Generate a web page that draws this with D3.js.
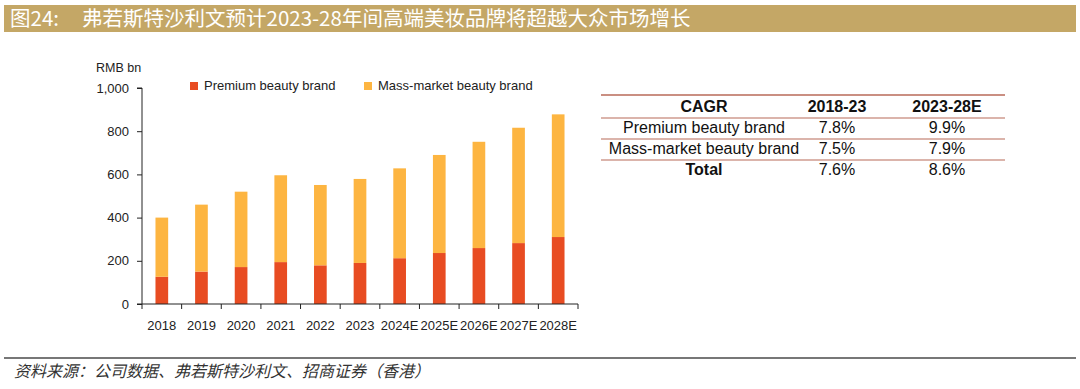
<!DOCTYPE html>
<html>
<head>
<meta charset="utf-8">
<script src="https://cdn.jsdelivr.net/npm/d3@7"></script>
<style>
  body { margin: 0; background: #fff; }
  svg { display: block; }
  .axis text { font-family: "Liberation Sans", Arial, sans-serif; font-size: 13px; fill: #222; }
  .axis path, .axis line { stroke: #222; }
</style>
</head>
<body>
<div id="chart"></div>
<script>
var years = ["2018", "2019", "2020", "2021", "2022", "2023", "2024E", "2025E", "2026E", "2027E", "2028E"];
var premium = [126, 150, 171, 194, 179, 190, 212, 236, 259, 282, 310];
var mass = [274, 310, 349, 402, 372, 389, 416, 454, 492, 534, 568];
var seriesNames = ["Premium beauty brand", "Mass-market beauty brand"];
var yTicks = [0, 200, 400, 600, 800, 1000];

var tableHead = ["CAGR", "2018-23", "2023-28E"];
var tableRows = ["Premium beauty brand", "Mass-market beauty brand", "Total"];
var cagr1823 = ["7.8%", "7.5%", "7.6%"];
var cagr2328 = ["9.9%", "7.9%", "8.6%"];

var titleLabel = "图24:";
var titleText = "弗若斯特沙利文预计2023-28年间高端美妆品牌将超越大众市场增长";
var sourceText = "资料来源：公司数据、弗若斯特沙利文、招商证券（香港）";

var W = 1080, H = 389;
var colors = ["#e84c22", "#fdb541"];

var svg = d3.select("#chart").append("svg")
    .attr("width", W)
    .attr("height", H);

// HEADER BAR
svg.append("rect")
    .attr("x", 4).attr("y", 5)
    .attr("width", 1072).attr("height", 27)
    .attr("fill", "#c4a766");

var title = svg.append("g")
    .attr("fill", "#fff")
    .style("font-family", "'Noto Sans CJK SC', sans-serif")
    .style("font-size", "20.5px");

title.append("text").attr("x", 10).attr("y", 26).text(titleLabel);
title.append("text").attr("x", 82).attr("y", 26).text(titleText);

// CHART
var margin = {left: 142, top: 88, right: 578, bottom: 304};

var x = d3.scaleBand()
    .domain(years)
    .range([margin.left, margin.right])
    .paddingInner(0.68)
    .paddingOuter(0.34);

var y = d3.scaleLinear()
    .domain([0, 1000])
    .range([margin.bottom, margin.top]);

var data = years.map(function(d, i) { return {year: d, premium: premium[i], mass: mass[i]}; });
var stack = d3.stack().keys(["premium", "mass"]);
var layers = stack(data);

svg.selectAll(".layer")
    .data(layers)
    .enter().append("g")
    .attr("class", "layer")
    .attr("fill", function(d, i) { return colors[i]; })
    .selectAll("rect")
    .data(function(d) { return d; })
    .enter().append("rect")
    .attr("x", function(d) { return x(d.data.year); })
    .attr("y", function(d) { return y(d[1]); })
    .attr("height", function(d) { return y(d[0]) - y(d[1]); })
    .attr("width", x.bandwidth());

var yAxis = d3.axisLeft(y)
    .tickValues(yTicks)
    .tickSize(5)
    .tickPadding(8)
    .tickFormat(d3.format(","));

svg.append("g")
    .attr("class", "axis")
    .attr("transform", "translate(" + margin.left + ",0)")
    .call(yAxis)
    .call(function(g) { g.select(".domain").attr("d", "M-5," + margin.top + "H0V" + margin.bottom); });

// x axis with ticks at category boundaries
var xg = svg.append("g")
    .attr("class", "axis")
    .attr("transform", "translate(0," + margin.bottom + ")");

xg.append("line")
    .attr("x1", margin.left - 5).attr("x2", margin.right)
    .attr("stroke", "#222");

xg.selectAll(".tk")
    .data(d3.range(years.length + 1))
    .enter().append("line")
    .attr("x1", function(i) { return margin.left + i * (margin.right - margin.left) / years.length; })
    .attr("x2", function(i) { return margin.left + i * (margin.right - margin.left) / years.length; })
    .attr("y1", 0).attr("y2", 5)
    .attr("stroke", "#222");

xg.selectAll(".lbl")
    .data(years)
    .enter().append("text")
    .attr("x", function(d) { return x(d) + x.bandwidth() / 2; })
    .attr("y", 26)
    .attr("text-anchor", "middle")
    .text(function(d) { return d; });

svg.append("text")
    .attr("x", 96).attr("y", 72)
    .style("font-family", "'Liberation Sans', Arial, sans-serif")
    .style("font-size", "12.5px")
    .attr("fill", "#222")
    .text("RMB bn");

// LEGEND
var legendX = [190, 364];
var legend = svg.selectAll(".legend")
    .data(seriesNames)
    .enter().append("g")
    .attr("transform", function(d, i) { return "translate(" + legendX[i] + ",82)"; });

legend.append("rect")
    .attr("width", 8).attr("height", 8)
    .attr("fill", function(d, i) { return colors[i]; });

legend.append("text")
    .attr("x", 14).attr("y", 8)
    .style("font-family", "'Liberation Sans', Arial, sans-serif")
    .style("font-size", "13px")
    .attr("fill", "#222")
    .text(function(d) { return d; });

// CAGR TABLE
var tx = [601, 1005];
var rowY = [95, 118, 139, 160];
var lineColor = "#b86a58";

var table = svg.append("g")
    .style("font-family", "'Liberation Sans', Arial, sans-serif")
    .style("font-size", "16px")
    .attr("fill", "#111");

table.selectAll(".hl")
    .data(rowY)
    .enter().append("line")
    .attr("x1", tx[0]).attr("x2", tx[1])
    .attr("y1", function(d) { return d; }).attr("y2", function(d) { return d; })
    .attr("stroke", lineColor)
    .attr("stroke-width", function(d, i) { return i == 0 ? 1.5 : 1.2; });

var colCenter = [704, 837, 947];

table.selectAll(".th")
    .data(tableHead)
    .enter().append("text")
    .attr("x", function(d, i) { return colCenter[i]; })
    .attr("y", 112)
    .attr("text-anchor", "middle")
    .style("font-weight", "bold")
    .text(function(d) { return d; });

tableRows.forEach(function(r, i) {
    var yy = rowY[0] + 21 * (i + 1) + 17;
    table.append("text")
        .attr("x", colCenter[0]).attr("y", yy)
        .attr("text-anchor", "middle")
        .style("font-weight", i == 2 ? "bold" : "normal")
        .text(r);
    table.append("text")
        .attr("x", colCenter[1]).attr("y", yy)
        .attr("text-anchor", "middle")
        .text(cagr1823[i]);
    table.append("text")
        .attr("x", colCenter[2]).attr("y", yy)
        .attr("text-anchor", "middle")
        .text(cagr2328[i]);
});

// FOOTER
svg.append("line")
    .attr("x1", 4).attr("x2", 1076)
    .attr("y1", 358).attr("y2", 358)
    .attr("stroke", "#777")
    .attr("stroke-width", 2);

svg.append("text")
    .attr("x", 14).attr("y", 377)
    .style("font-family", "'Noto Sans CJK SC', sans-serif")
    .style("font-size", "16px")
    .style("font-style", "italic")
    .attr("fill", "#333")
    .text(sourceText);
</script>
</body>
</html>
